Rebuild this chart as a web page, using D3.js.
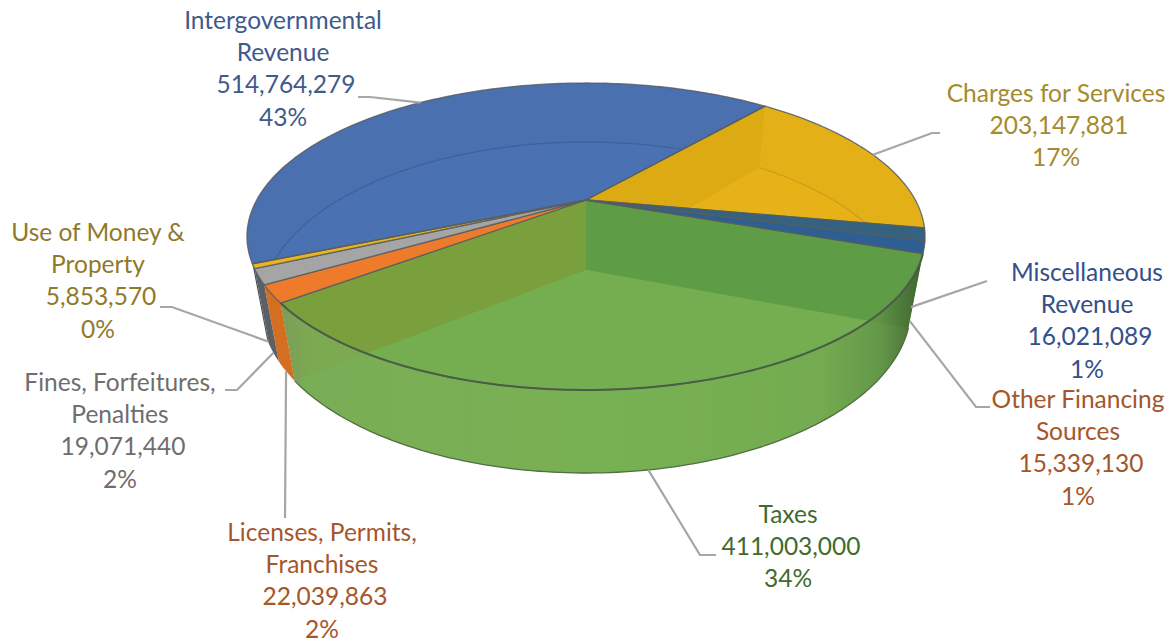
<!DOCTYPE html>
<html>
<head>
<meta charset="utf-8">
<title>Revenue by source</title>
<script src="https://cdn.jsdelivr.net/npm/d3@7/dist/d3.min.js"></script>
<style>
  html, body { margin: 0; padding: 0; background: #fff; }
  svg { display: block; }
  text { font-family: Lato, "Open Sans", sans-serif; font-size: 24.5px; text-anchor: middle; }
</style>
</head>
<body>
<svg id="chart" width="1174" height="643"></svg>
<script>
// Revenue sources, clockwise from the first slice of the pie.
const categories = [
  "Charges for Services", "Miscellaneous Revenue", "Other Financing Sources", "Taxes",
  "Licenses, Permits, Franchises", "Fines, Forfeitures, Penalties", "Use of Money & Property",
  "Intergovernmental Revenue"
];
const revenue = [203147881, 16021089, 15339130, 411003000, 22039863, 19071440, 5853570, 514764279];
const labelLines = [
  ["Charges for Services"], ["Miscellaneous", "Revenue"], ["Other Financing", "Sources"], ["Taxes"],
  ["Licenses, Permits,", "Franchises"], ["Fines, Forfeitures,", "Penalties"], ["Use of Money &", "Property"],
  ["Intergovernmental", "Revenue"]
];

// Face colours per slice: rim band, floor, the two radial walls, top face and its opacity, outer wall.
const bandFill  = ["#e3b018", "#33628a", "#2e5f92", "#74ae50", "#ee7b2b", "#a5a5a5", "#e8b422", "#4a70af"];
const floorFill = ["#e7b218", "#33628a", "#2e5f92", "#74ae50", "#ee7b2b", "#a5a5a5", "#e8b422", "#4a72b3"];
const wallFillA = ["#dcaa13", "#33628a", "#2e5f92", "#5f9c46", "#ee7b2b", "#a5a5a5", "#e8b422", "#4a72b3"];
const wallFillB = ["#dcaa13", "#33628a", "#2e5f92", "#79a03c", "#ee7b2b", "#a5a5a5", "#e8b422", "#4a72b3"];
const topFill   = ["#e3b018", "#35637f", "#2d5f93", "#74ae50", "#ee7b2b", "#a5a5a5", "#e8b422", "#4a70af"];
const topAlpha  = [0, 1, 1, 0, 1, 1, 1, 0];
const outerFill = ["none", "none", "none", "url(#frontWall)", "#d46e20", "#5b6066", "#4b5055", "none"];
const floorLine = ["#cf9f14", "none", "none", "none", "none", "none", "none", "#41619c"];
const textFill  = ["#a58a2e", "#33508a", "#a5552a", "#3f6b2f", "#a5562a", "#6e6e6e", "#8f7a2a", "#3f5a8c"];

// Label placement: text centre, first baseline, leader elbow points, and which rim the leader meets.
const labelX     = [1056, 1087, 1078, 788, 322, 120, 98, 283];
const labelY     = [102, 281, 408, 523, 541, 391, 241, 29];
const labelStep  = 32.2;
const valueShift = 3;
const leaderPath = [
  [[940, 133], [932, 133]],
  [[987, 281]],
  [[990, 407], [976, 407]],
  [[716, 555], [700, 555]],
  [[285, 518]],
  [[225, 390], [237, 390]],
  [[160, 307], [172, 307]],
  [[358, 97], [370, 97]]
];
const leaderRim = ["top", "floor", "floor", "floor", "floor", "floor", "floor", "top"];

// Perspective of the two circular rims: apex position, foreshortening and axis scales.
const topRim   = { cx: 586, cy: 200, a: 329.3, b: 144.8, k: 0.2378 };
const floorRim = { cx: 586, cy: 270, a: 316.5, b: 157.0, k: 0.2266 };
const rad = Math.PI / 180;

const project = (rim, angle) => {
  const X = Math.sin(angle), Y = -Math.cos(angle), w = 1 - rim.k * Y;
  return [rim.cx + rim.a * X / w, rim.cy + rim.b * Y / w];
};
const arcPoints = (rim, a0, a1) => {
  const n = Math.max(2, Math.ceil((a1 - a0) / rad));
  return d3.range(n + 1).map(i => project(rim, a0 + (a1 - a0) * i / n));
};
const apex = rim => [rim.cx, rim.cy];
const path = d3.line();
const closed = pts => path(pts) + "Z";

const total = d3.sum(revenue);
const slices = d3.pie().sort(null).startAngle(40 * rad).endAngle(400 * rad)(revenue);
const moneyFormat = d3.format(",");
const shareFormat = d3.format(".0%");

const svg = d3.select("#chart");
const defs = svg.append("defs");

const grad = defs.append("linearGradient").attr("id", "frontWall")
  .attr("gradientUnits", "userSpaceOnUse").attr("x1", 278).attr("x2", 925).attr("y1", 0).attr("y2", 0);
[[0, "#7f9a68"], [0.05, "#7cad58"], [0.5, "#79b254"], [0.84, "#74aa50"], [0.93, "#5d8f45"], [1, "#2f4a26"]]
  .forEach(([o, c]) => grad.append("stop").attr("offset", o).attr("stop-color", c));

const topShape   = s => closed([apex(topRim), ...arcPoints(topRim, s.startAngle, s.endAngle)]);
const floorShape = s => closed([apex(floorRim), ...arcPoints(floorRim, s.startAngle, s.endAngle)]);
const bandShape  = s => closed([...arcPoints(topRim, s.startAngle, s.endAngle),
                                ...arcPoints(floorRim, s.startAngle, s.endAngle).reverse()]);
const wallShape  = angle => closed([apex(topRim), apex(floorRim), project(floorRim, angle), project(topRim, angle)]);

// A slice's insides show through its top face; the front slice also shows them through its outer wall.
slices.forEach((s, i) => {
  const clip = defs.append("clipPath").attr("id", "slice" + i);
  clip.append("path").attr("d", topShape(s));
  if (outerFill[i] === "url(#frontWall)") clip.append("path").attr("d", bandShape(s));
});

const insides = svg.append("g");
slices.forEach((s, i) => {
  const g = insides.append("g").attr("clip-path", `url(#slice${i})`);
  g.append("path").attr("d", topShape(s)).attr("fill", bandFill[i]);
  g.append("path").attr("d", bandShape(s)).attr("fill", bandFill[i]);
  g.append("path").attr("d", wallShape(s.startAngle)).attr("fill", wallFillA[i]);
  g.append("path").attr("d", wallShape(s.endAngle)).attr("fill", wallFillB[i]);
  g.append("path").attr("d", floorShape(s)).attr("fill", floorFill[i]);
  if (floorLine[i] !== "none") {
    g.append("path").attr("d", path(arcPoints(floorRim, s.startAngle, s.endAngle)))
      .attr("fill", "none").attr("stroke", floorLine[i]).attr("stroke-width", 1.3);
  }
});

// Outer walls, then top faces, with the dark slice outlines.
const walls = svg.append("g");
slices.forEach((s, i) => {
  if (outerFill[i] === "none") return;
  walls.append("path").attr("d", bandShape(s)).attr("fill", outerFill[i])
    .attr("fill-opacity", i === 3 ? 0.72 : 1);
});

const tops = svg.append("g");
slices.forEach((s, i) => {
  tops.append("path").attr("d", topShape(s))
    .attr("fill", topFill[i]).attr("fill-opacity", topAlpha[i])
    .attr("stroke", "#575d60").attr("stroke-opacity", 0.85).attr("stroke-width", 1.3)
    .attr("stroke-linejoin", "round");
});

const taxSlice = slices[3];
svg.append("path").attr("d", path(arcPoints(topRim, taxSlice.startAngle, taxSlice.endAngle)))
  .attr("fill", "none").attr("stroke", "#4a5e45").attr("stroke-width", 2);
svg.append("path").attr("d", path(arcPoints(floorRim, taxSlice.startAngle, taxSlice.endAngle)))
  .attr("fill", "none").attr("stroke", "#526e45").attr("stroke-width", 1.3);

// Leader lines run from each slice's middle on the rim to its label.
const leaders = svg.append("g").attr("fill", "none").attr("stroke", "#a6a6a6").attr("stroke-width", 2.2);
slices.forEach((s, i) => {
  const mid = (s.startAngle + s.endAngle) / 2;
  const anchor = project(leaderRim[i] === "top" ? topRim : floorRim, mid);
  leaders.append("path").attr("d", path([...leaderPath[i], anchor]));
});

// Labels: name lines, value, share.
const labels = svg.append("g");
slices.forEach((s, i) => {
  const names = labelLines[i];
  const lines = [...names, moneyFormat(revenue[i]), shareFormat(revenue[i] / total)];
  const t = labels.append("text").attr("fill", textFill[i]);
  lines.forEach((line, j) => {
    t.append("tspan")
      .attr("x", labelX[i] + (j === names.length ? valueShift : 0))
      .attr("y", labelY[i] + j * labelStep)
      .text(line);
  });
});
</script>
</body>
</html>
